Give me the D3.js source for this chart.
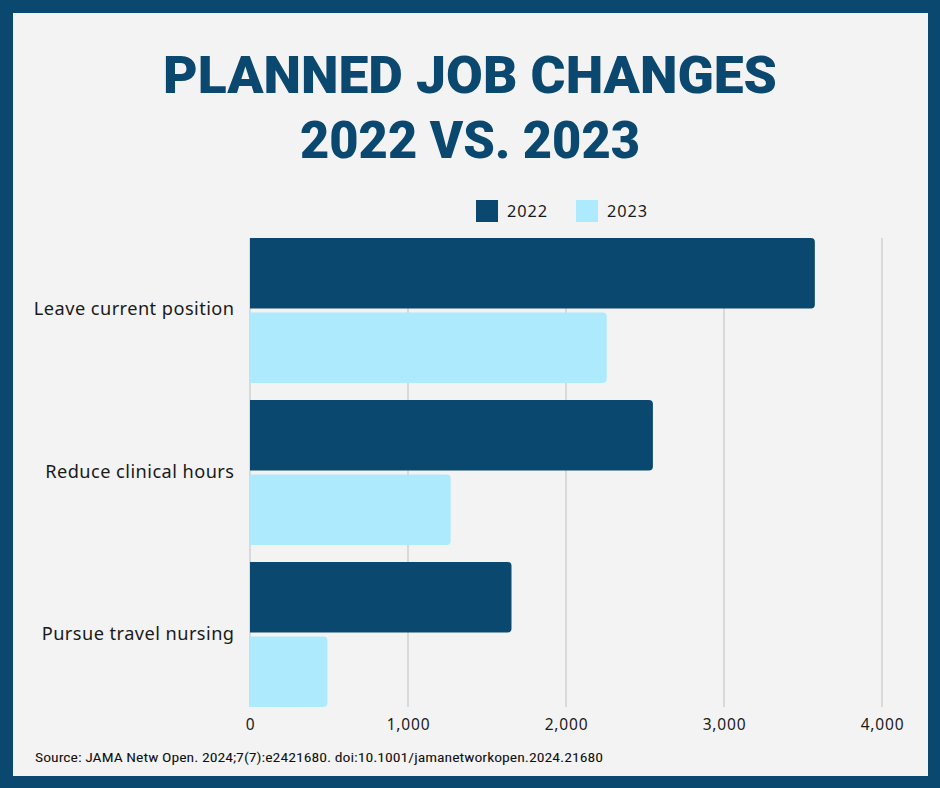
<!DOCTYPE html>
<html><head><meta charset="utf-8">
<script src="https://cdn.jsdelivr.net/npm/d3@7"></script>
<style>
html,body{margin:0;padding:0;background:#0b4870;}
svg{display:block;}
</style></head>
<body>
<svg id="chart" width="940" height="788"></svg>
<script>
const categories = ["Leave current position", "Reduce clinical hours", "Pursue travel nursing"];
const seriesNames = ["2022", "2023"];
const values2022 = [3575, 2550, 1655];
const values2023 = [2258, 1270, 490];
const tickValues = [0, 1000, 2000, 3000, 4000];
const titleLines = ["PLANNED JOB CHANGES", "2022 VS. 2023"];
const sourceText = "Source: JAMA Netw Open. 2024;7(7):e2421680. doi:10.1001/jamanetworkopen.2024.21680";

const colors = {"2022": "#0b4870", "2023": "#aeeafd"};
const svg = d3.select("#chart");

// outer frame and panel
svg.append("rect").attr("x",0).attr("y",0).attr("width",940).attr("height",788).attr("fill","#0b4870");
svg.append("rect").attr("x",13).attr("y",13).attr("width",915).attr("height",763).attr("fill","#f3f3f3");

// title
const titleFont = "'Roboto','DejaVu Sans',sans-serif";
svg.selectAll("text.title").data(titleLines).join("text")
  .attr("class","title")
  .attr("x",470).attr("y",(d,i)=>[93,158][i])
  .attr("text-anchor","middle")
  .attr("font-family",titleFont).attr("font-weight",900)
  .attr("font-size",51)
  .attr("fill","#0b4870")
  .attr("textLength",(d,i)=>[614,340][i])
  .attr("lengthAdjust","spacingAndGlyphs")
  .text(d=>d);

// scales
const x = d3.scaleLinear().domain([0,4000]).range([250,882]);
const y0 = d3.scaleBand().domain(categories).range([238,707]).paddingInner(0.105).paddingOuter(0);
const y1 = d3.scaleBand().domain(seriesNames).range([0,y0.bandwidth()]).paddingInner(0.055);

// gridlines
const g = svg.append("g");
g.selectAll("line.grid").data(tickValues).join("line")
  .attr("class","grid")
  .attr("x1",d=>x(d)).attr("x2",d=>x(d))
  .attr("y1",238).attr("y2",707)
  .attr("stroke","#d9d9d9").attr("stroke-width",2);

// bars
function barPath(x0,x1,yy,h,r){
  const w = x1-x0; r=Math.min(r,w/2,h/2);
  return `M${x0},${yy}H${x1-r}Q${x1},${yy} ${x1},${yy+r}V${yy+h-r}Q${x1},${yy+h} ${x1-r},${yy+h}H${x0}Z`;
}
const data = categories.map((c,i)=>({cat:c, vals:[{s:"2022",v:values2022[i]},{s:"2023",v:values2023[i]}]}));
const groups = svg.append("g").selectAll("g").data(data).join("g")
  .attr("transform",d=>`translate(0,${y0(d.cat)})`);
groups.selectAll("path").data(d=>d.vals).join("path")
  .attr("d",d=>barPath(x(0),x(d.v),y1(d.s),y1.bandwidth(),4))
  .attr("fill",d=>colors[d.s]);

// category labels
const labelFont = "'Noto Sans','Open Sans',sans-serif";
svg.append("g").selectAll("text").data(categories).join("text")
  .attr("x",234.5).attr("y",d=>y0(d)+y0.bandwidth()/2 + 5)
  .attr("text-anchor","end")
  .attr("font-family",labelFont).attr("font-size",18.2)
  .attr("letter-spacing",0.45)
  .attr("fill","#1a1a1a")
  .text(d=>d);

// x axis
const xAxis = d3.axisBottom(x).tickValues(tickValues).tickSize(0).tickPadding(0).tickFormat(d3.format(","));
const ax = svg.append("g").attr("transform","translate(0,729.5)").call(xAxis);
ax.select(".domain").remove();
ax.selectAll("text").attr("font-family",labelFont).attr("font-size",15.5)
  .attr("letter-spacing",0.8).attr("fill","#1a1a1a").attr("dy",0);

// legend
const leg = svg.append("g").selectAll("g").data(seriesNames).join("g")
  .attr("transform",(d,i)=>`translate(${476+i*100},200)`);
leg.append("rect").attr("width",22).attr("height",22).attr("fill",d=>colors[d]);
leg.append("text").attr("x",31).attr("y",17)
  .attr("font-family",labelFont).attr("font-size",16.3).attr("letter-spacing",0.9)
  .attr("fill","#1a1a1a").text(d=>d);

// source
svg.append("text").attr("x",35).attr("y",762)
  .attr("font-family","'Liberation Sans Narrow','Roboto Condensed','Liberation Sans',sans-serif")
  .attr("font-size",13.5).attr("fill","#111")
  .attr("textLength",568).attr("lengthAdjust","spacingAndGlyphs")
  .text(sourceText);
</script>
</body></html>
